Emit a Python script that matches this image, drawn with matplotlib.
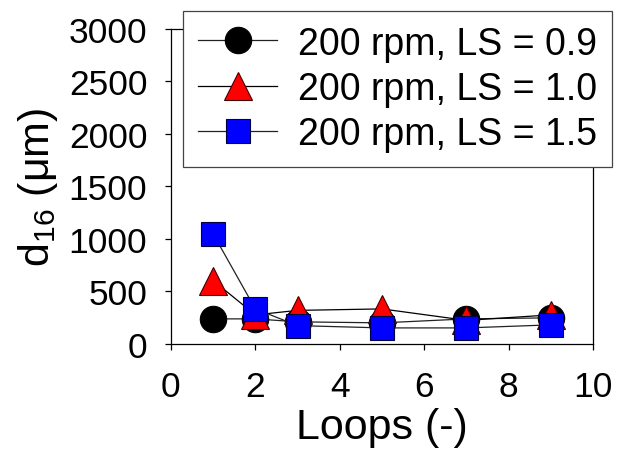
import matplotlib
matplotlib.use("Agg")
import matplotlib.pyplot as plt

plt.rcParams.update({
    "font.family": ["Liberation Sans", "DejaVu Sans"],
    "mathtext.fontset": "custom",
    "mathtext.rm": "Liberation Sans",
    "mathtext.it": "Liberation Sans",
    "font.size": 26,
    "axes.linewidth": 0.9,
    "lines.linewidth": 0.9,
})

loops = [1, 2, 3, 5, 7, 9]
d16_ls09 = [238, 238, 210, 200, 238, 248]
d16_ls10 = [603, 276, 319, 333, 224, 276]
d16_ls15 = [1048, 333, 174, 152, 152, 181]

labels = ["200 rpm, LS = 0.9", "200 rpm, LS = 1.0", "200 rpm, LS = 1.5"]

fig = plt.figure(figsize=(6.17, 4.52), dpi=100)
ax = fig.add_axes([0.277, 0.237, 0.684, 0.697])

ax.plot(loops, d16_ls09, color="#222222", marker="o", markersize=19,
        markerfacecolor="black", markeredgecolor="black", markeredgewidth=0.8,
        label=labels[0])
ax.plot(loops, d16_ls10, color="black", marker="^", markersize=20,
        markerfacecolor="red", markeredgecolor="#400000", markeredgewidth=0.8,
        label=labels[1])
ax.plot(loops, d16_ls15, color="#222222", marker="s", markersize=17,
        markerfacecolor="blue", markeredgecolor="#000040", markeredgewidth=0.8,
        label=labels[2])

ax.set_xlim(0, 10)
ax.set_ylim(0, 3000)
ax.set_xticks([0, 2, 4, 6, 8, 10])
ax.set_yticks([0, 500, 1000, 1500, 2000, 2500, 3000])
ax.tick_params(direction="out", length=4, width=0.9, labelsize=25.5)
ax.tick_params(axis="x", pad=15)
ax.tick_params(axis="y", pad=13)

ax.set_xlabel("Loops (-)", fontsize=31, labelpad=3)
ax.set_ylabel(r"d$_{16}$ ($\mathregular{\mu}$m)", fontsize=31, labelpad=6)

leg = ax.legend(loc="upper right", bbox_to_anchor=(1.045, 1.058),
                borderaxespad=0, fancybox=False, framealpha=1,
                edgecolor="#444444", fontsize=27, handlelength=2.1,
                handletextpad=0.55, labelspacing=0.25, borderpad=0.4)
leg.get_frame().set_linewidth(0.9)

fig.savefig("out.png", dpi=100)
